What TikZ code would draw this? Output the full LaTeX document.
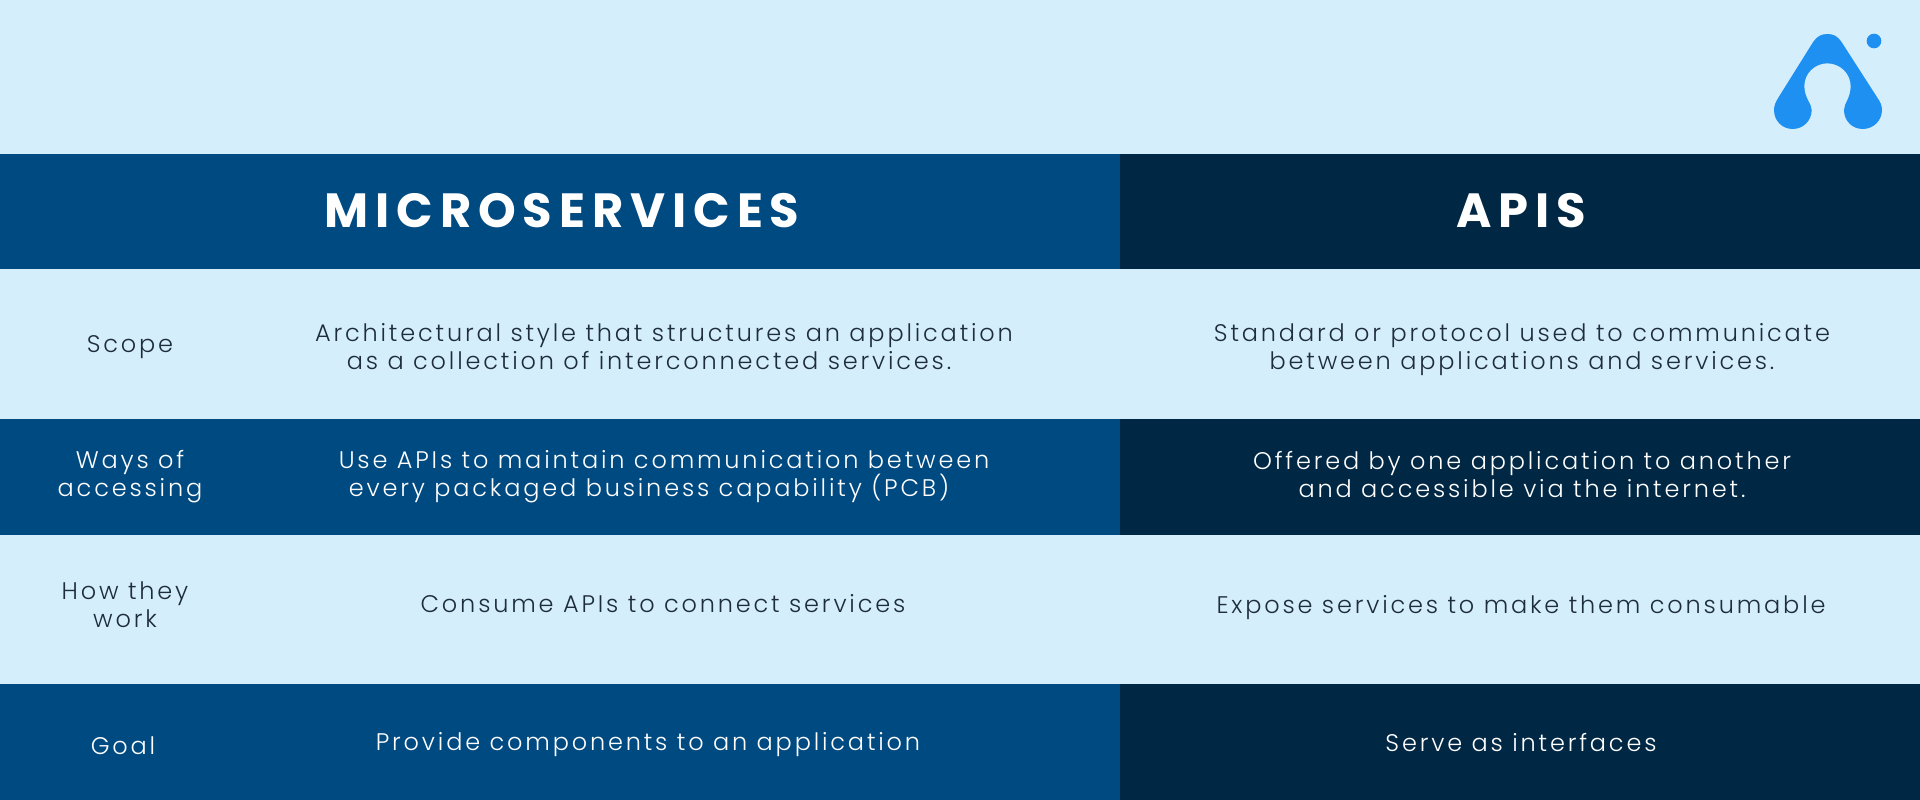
\documentclass[tikz,border=0pt]{standalone}
\usepackage{fontspec}
\usetikzlibrary{positioning}
\setmainfont{Poppins}
\newfontfamily\bodyfont[LetterSpace=11.8]{Poppins Light}
\newfontfamily\headfont[LetterSpace=14.4]{Poppins Bold}
\definecolor{paleblue}{HTML}{D5EEFC}
\definecolor{midblue}{HTML}{004A82}
\definecolor{navyblue}{HTML}{002744}
\definecolor{logoblue}{HTML}{1E90F2}
\definecolor{inkblue}{HTML}{1D2C3F}

\begin{document}
\begin{tikzpicture}
    [
        x=1pt, y=1pt,
        band_node/.style={inner sep=0pt, outer sep=0pt, anchor=north west},
        head_node/.style={text=white, font=\headfont\fontsize{48}{48}\selectfont},
        dark_text/.style={text=inkblue, align=center, font=\bodyfont\fontsize{24}{28}\selectfont},
        light_text/.style={text=white, align=center, font=\bodyfont\fontsize{24}{28}\selectfont},
    ]

  \useasboundingbox (0,0) rectangle (1920,-800);

  % bands
  \node[band_node, fill=paleblue, minimum width=1920pt, minimum height=154pt] (TOP) at (0,0) {};
  \node[band_node, fill=midblue, minimum width=1120pt, minimum height=115pt] (HEADL) at (0,-154) {};
  \node[band_node, fill=navyblue, minimum width=800pt, minimum height=115pt] (HEADR) at (1120,-154) {};
  \node[band_node, fill=paleblue, minimum width=1920pt, minimum height=150pt] (ROWA) at (0,-269) {};
  \node[band_node, fill=midblue, minimum width=1120pt, minimum height=116pt] (ROWBL) at (0,-419) {};
  \node[band_node, fill=navyblue, minimum width=800pt, minimum height=116pt] (ROWBR) at (1120,-419) {};
  \node[band_node, fill=paleblue, minimum width=1920pt, minimum height=149pt] (ROWC) at (0,-535) {};
  \node[band_node, fill=midblue, minimum width=1120pt, minimum height=116pt] (ROWDL) at (0,-684) {};
  \node[band_node, fill=navyblue, minimum width=800pt, minimum height=116pt] (ROWDR) at (1120,-684) {};

  % header
  \node[head_node] (MICRO) at (562,-211) {MICROSERVICES};
  \node[head_node] (APIS) at (1521,-211) {APIS};

  % first column
  \node[dark_text] (SCOPE) at (130,-347.5) {Scope};
  \node[light_text] (WAYS) at (130,-476.5) {Ways of\\accessing};
  \node[dark_text] (WORK) at (125,-605) {How they\\work};
  \node[light_text] (GOAL) at (123,-746) {Goal};

  % microservices column
  \node[dark_text] (SCOPEL) at (664,-347) {Architectural style that structures an application\\as a collection of interconnected services.\hspace*{30pt}};
  \node[light_text] (WAYSL) at (664,-476.5) {Use APIs to maintain communication between\\every packaged business capability (PCB)\hspace*{30pt}};
  \node[dark_text] (WORKL) at (663,-604) {Consume APIs to connect services};
  \node[light_text] (GOALL) at (648,-745) {Provide components to an application};

  % apis column
  \node[dark_text] (SCOPER) at (1522,-349.5) {Standard or protocol used to communicate\\between applications and services.};
  \node[light_text] (WAYSR) at (1522,-474.5) {Offered by one application to another\\and accessible via the internet.};
  \node[dark_text] (WORKR) at (1521,-607.5) {Expose services to make them consumable};
  \node[light_text] (GOALR) at (1521,-743) {Serve as interfaces};

  % logo
  \begin{scope}[shift={(1720,0)}, x=0.3333pt, y=-0.3333pt]
    \fill[logoblue] (162,330) .. controls (162,315) and (168,305) .. (175,293) -- (280,125)
      .. controls (292,108) and (305,102) .. (322,102) .. controls (340,102) and (352,108) .. (364,125)
      -- (472,293) .. controls (480,305) and (486,315) .. (486,330)
      .. controls (486,362) and (460,387) .. (428,387) .. controls (396,387) and (372,362) .. (372,330)
      .. controls (372,310) and (392,295) .. (392,258) .. controls (392,220) and (360,190) .. (322,190)
      .. controls (284,190) and (253,220) .. (253,258) .. controls (253,295) and (275,310) .. (275,330)
      .. controls (275,362) and (250,387) .. (218,387) .. controls (186,387) and (162,362) .. (162,330) -- cycle;
    \fill[logoblue] (462,123) circle[radius=22];
  \end{scope}
\end{tikzpicture}
\end{document}
